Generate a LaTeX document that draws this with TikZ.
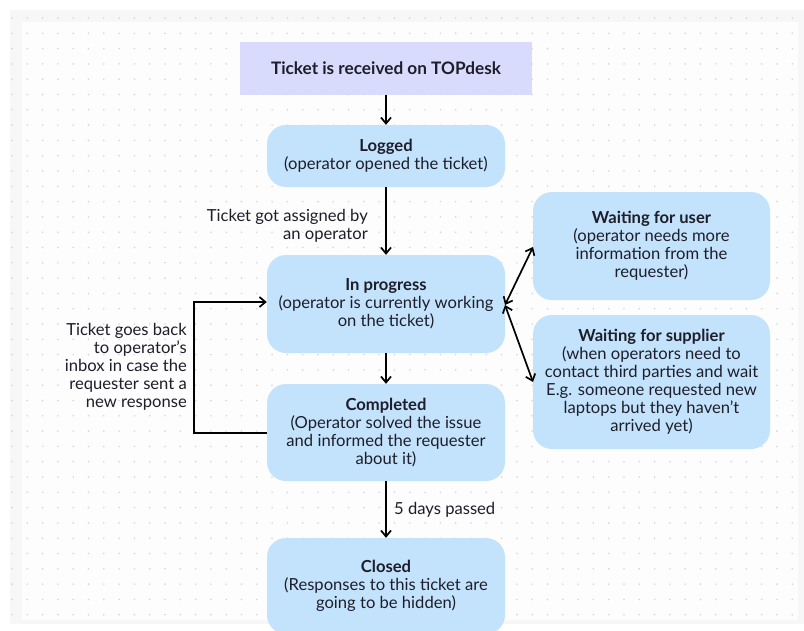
\documentclass[tikz,border=0pt]{standalone}
\usepackage{fontspec}
\setmainfont{Lato}
\usetikzlibrary{arrows.meta}
\definecolor{boxblue}{HTML}{C3E3FC}
\definecolor{boxlav}{HTML}{D9DBFD}
\definecolor{ink}{HTML}{1E1E2A}
\definecolor{dotc}{HTML}{D6D6D6}
\definecolor{frame}{HTML}{F7F7F7}
\definecolor{canvas}{HTML}{FDFDFD}
\newcommand{\txt}{\fontsize{16.6}{18}\selectfont}
\tikzset{
  state/.style={fill=boxblue, rounded corners=19pt, align=center, font=\txt,
    text=ink, inner sep=0pt, minimum width=238pt},
  start/.style={fill=boxlav, align=center, font=\fontsize{17.2}{18}\selectfont\bfseries, text=ink,
    inner sep=0pt, minimum width=292pt, minimum height=53pt},
  tip/.tip={Straight Barb[length=6pt,width=10pt,line width=1.7pt]},
  flow/.style={line width=1.7pt, -tip},
  twoway/.style={line width=1.7pt, tip-tip},
  note/.style={font=\txt, text=ink, inner sep=0pt},
}
\begin{document}
\begin{tikzpicture}[x=1pt,y=-1pt]
\useasboundingbox (0,0) rectangle (804,630);
% canvas with dotted grid
\fill[white] (0,0) rectangle (804,630);
\fill[frame] (10,10) rectangle (804,624);
\fill[canvas] (22,22) rectangle (798,620);
\foreach \i in {0,...,52} {
  \foreach \j in {0,...,39} {
    \fill[dotc] (12+15.3*\i, 18+15.3*\j) circle (0.9pt);
  }
}

% states
\node[start] (recv) at (386,68.5) {Ticket is received on TOPdesk};
\node[state, minimum height=62pt] (logged) at (386,156)
  {\textbf{Logged}\\(operator opened the ticket)};
\node[state, minimum height=98pt] (prog) at (386,304)
  {\textbf{In progress}\\(operator is currently working\\on the ticket)};
\node[state, minimum height=97pt] (done) at (386,432.5)
  {\textbf{Completed}\\(Operator solved the issue\\and informed the requester\\about it)};
\node[state, minimum height=96pt] (closed) at (386,586)
  {\textbf{Closed}\\(Responses to this ticket are\\going to be hidden)};
\node[state, minimum width=237pt, minimum height=108pt] (wuser) at (651.5,246)
  {\textbf{Waiting for user}\\(operator needs more\\information from the\\requester)};
\node[state, minimum width=237pt, minimum height=134pt] (wsup) at (651.5,382)
  {\textbf{Waiting for supplier}\\(when operators need to\\contact third parties and wait\\E.g. someone requested new\\laptops but they haven’t\\arrived yet)};

% main flow
\draw[flow] (recv.south) -- (logged.north);
\draw[flow] (logged.south) -- (prog.north);
\draw[flow] (prog.south) -- (done.north);
\draw[flow] (done.south) -- (closed.north);

% transition labels
\node[note, align=right, anchor=east] (assign) at (368,225.5)
  {Ticket got assigned by\\an operator};
\node[note, align=left, anchor=west] (days) at (394,510) {5 days passed};
\node[note, align=right, anchor=east] (back) at (187,367)
  {Ticket goes back\\to operator’s\\inbox in case the\\requester sent a\\new response};

% reopen loop
\coordinate (loopbot) at (194,433);
\coordinate (looptop) at (194,302);
\draw[flow] (done.west |- loopbot) -- (loopbot) -- (looptop) -- (prog.west |- looptop);

% waiting states
\coordinate (fork) at (505,305);
\draw[twoway] (fork) -- (533,247);
\draw[twoway] (fork) -- (533,382);
\end{tikzpicture}
\end{document}
